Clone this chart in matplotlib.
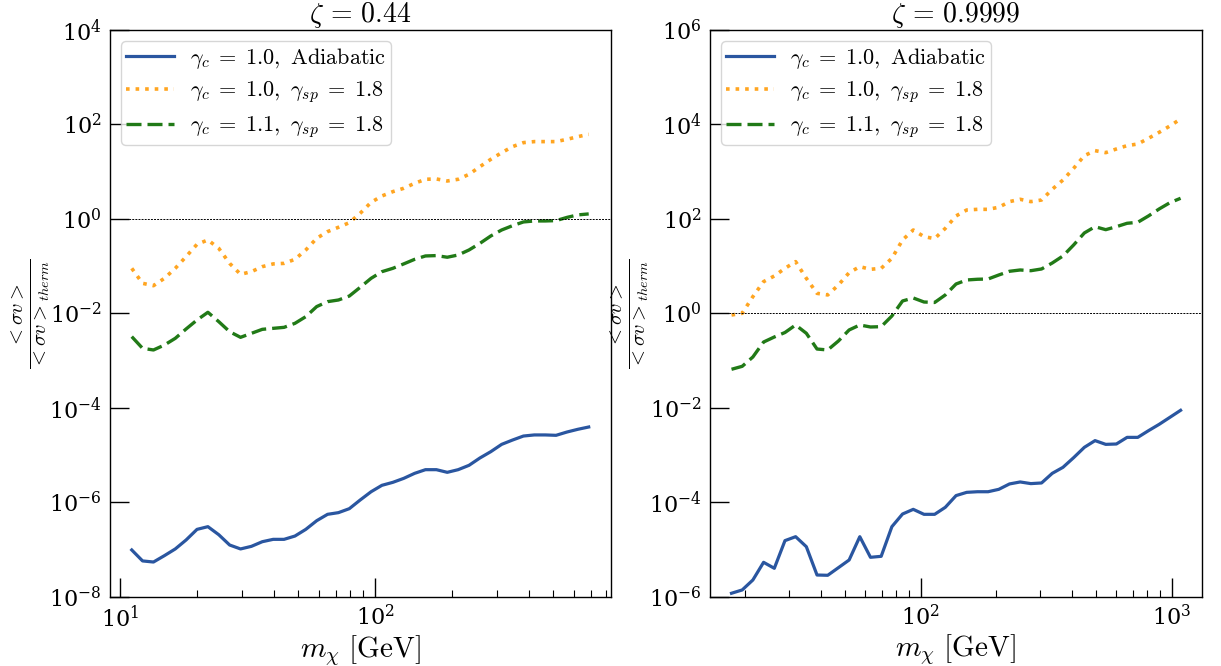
import matplotlib
matplotlib.use("Agg")
import matplotlib.pyplot as plt
from matplotlib.ticker import FixedLocator, NullLocator, LogLocator

plt.rcParams['mathtext.fontset'] = 'cm'
plt.rcParams['font.family'] = 'serif'
plt.rcParams['font.serif'] = ['DejaVu Serif']

# ---- left panel, zeta = 0.44 ----
m_left = [11.12, 12.26, 13.53, 14.93, 16.47, 18.16, 20.04, 22.11, 24.39, 26.90,
          29.68, 32.73, 36.12, 39.84, 43.95, 48.49, 53.48, 59.01, 65.09, 71.81,
          79.21, 87.38, 96.41, 106.3, 117.3, 129.4, 142.8, 157.5, 173.8, 191.7,
          211.5, 233.3, 257.4, 283.9, 313.2, 345.6, 381.2, 420.6, 464.0, 511.7,
          564.5, 622.8, 687.0]
adiab_left = [9.9e-8, 5.8e-8, 5.5e-8, 7.5e-8, 1.04e-7, 1.61e-7, 2.70e-7, 3.08e-7, 2.08e-7, 1.26e-7,
              1.04e-7, 1.18e-7, 1.48e-7, 1.66e-7, 1.66e-7, 1.95e-7, 2.70e-7, 4.12e-7, 5.62e-7, 6.10e-7,
              7.40e-7, 1.13e-6, 1.69e-6, 2.31e-6, 2.67e-6, 3.24e-6, 4.14e-6, 4.95e-6, 4.95e-6, 4.35e-6,
              4.95e-6, 6.12e-6, 8.75e-6, 1.19e-5, 1.70e-5, 2.10e-5, 2.55e-5, 2.69e-5, 2.69e-5, 2.64e-5,
              3.10e-5, 3.54e-5, 3.96e-5]
sp10_left = [0.0903, 0.0435, 0.0388, 0.0555, 0.0903, 0.160, 0.291, 0.360, 0.239, 0.115,
             0.0675, 0.0767, 0.098, 0.112, 0.115, 0.140, 0.221, 0.390, 0.540, 0.667,
             0.836, 1.32, 2.25, 3.07, 3.79, 4.46, 5.69, 6.92, 7.03, 6.37,
             6.92, 8.81, 12.8, 18.3, 25.3, 34.0, 41.3, 43.4, 43.4, 43.4,
             48.5, 55.2, 61.9]
sp11_left = [3.24e-3, 1.83e-3, 1.69e-3, 2.15e-3, 2.98e-3, 4.70e-3, 7.28e-3, 1.06e-2, 6.71e-3, 4.12e-3,
             3.13e-3, 3.80e-3, 4.62e-3, 4.85e-3, 5.09e-3, 6.19e-3, 8.57e-3, 1.40e-2, 1.78e-2, 1.93e-2,
             2.34e-2, 3.58e-2, 5.55e-2, 7.67e-2, 9.03e-2, 0.112, 0.140, 0.165, 0.168, 0.155,
             0.173, 0.221, 0.305, 0.437, 0.585, 0.722, 0.865, 0.908, 0.908, 0.923,
             1.08, 1.22, 1.28]

# ---- right panel, zeta = 0.9999 ----
m_right = [17.66, 19.48, 21.48, 23.70, 26.15, 28.84, 31.80, 35.08, 38.69, 42.68,
           47.09, 51.94, 57.28, 63.18, 69.69, 76.88, 84.78, 93.52, 103.2, 113.8,
           125.5, 138.5, 152.7, 168.5, 185.8, 205.0, 226.1, 249.4, 275.0, 303.4,
           334.6, 369.2, 407.2, 449.2, 495.5, 546.5, 602.6, 664.8, 733.3, 808.9,
           892.3, 984.2, 1086.0]
adiab_right = [1.20e-6, 1.41e-6, 2.29e-6, 5.42e-6, 4.05e-6, 1.56e-5, 1.89e-5, 1.16e-5, 2.92e-6, 2.88e-6,
               4.18e-6, 6.07e-6, 1.89e-5, 6.92e-6, 7.26e-6, 3.08e-5, 5.71e-5, 7.16e-5, 5.62e-5, 5.62e-5,
               7.91e-5, 1.40e-4, 1.64e-4, 1.69e-4, 1.69e-4, 1.90e-4, 2.47e-4, 2.72e-4, 2.51e-4, 2.59e-4,
               4.14e-4, 5.55e-4, 8.89e-4, 1.47e-3, 2.04e-3, 1.70e-3, 1.73e-3, 2.39e-3, 2.39e-3, 3.31e-3,
               4.51e-3, 6.34e-3, 8.93e-3]
sp10_right = [0.929, 1.01, 2.27, 4.72, 6.22, 9.03, 12.5, 5.55, 2.67, 2.47,
              4.01, 7.31, 9.80, 8.61, 9.03, 14.7, 36.0, 58.5, 42.3, 38.4,
              63.4, 116, 155, 160, 160, 177, 233, 261, 233, 252,
              425, 668, 1180, 2188, 2793, 2535, 3030, 3565, 3864, 5093,
              6823, 9290, 13060]
sp11_right = [6.59e-2, 7.62e-2, 0.120, 0.249, 0.318, 0.396, 0.571, 0.381, 0.177, 0.169,
              0.262, 0.448, 0.571, 0.518, 0.526, 0.885, 1.84, 2.13, 1.75, 1.71,
              2.47, 4.21, 5.12, 5.30, 5.37, 6.53, 7.82, 8.33, 8.05, 8.75,
              11.7, 16.5, 28.2, 50.6, 68.7, 59.4, 68.7, 81.1, 85.1, 116,
              163, 221, 274]

labels = [r'$\gamma_c \;=\; 1.0,\ \mathrm{Adiabatic}$',
          r'$\gamma_c \;=\; 1.0,\ \gamma_{sp} \;=\; 1.8$',
          r'$\gamma_c \;=\; 1.1,\ \gamma_{sp} \;=\; 1.8$']
c_blue = '#2a56a0'
c_orange = '#ffa521'
c_green = '#217a17'

fig = plt.figure(figsize=(12.21, 6.66), dpi=100)
ax1 = fig.add_axes([0.0901, 0.1036, 0.4103, 0.8514])
ax2 = fig.add_axes([0.5815, 0.1036, 0.4029, 0.8514])

panels = [
    (ax1, m_left, adiab_left, sp10_left, sp11_left, r'$\zeta \,=\, 0.44$', (9.14, 840), (1e-8, 1e4), range(-8, 5, 2)),
    (ax2, m_right, adiab_right, sp10_right, sp11_right, r'$\zeta \,=\, 0.9999$', (14.5, 1321), (1e-6, 1e6), range(-6, 7, 2)),
]

for ax, m, a, s10, s11, title, xl, yl, yexp in panels:
    ax.plot(m, a, color=c_blue, lw=2.3, label=labels[0])
    ax.plot(m, s10, color=c_orange, lw=2.6, ls=':', label=labels[1])
    ax.plot(m, s11, color=c_green, lw=2.4, ls='--', dashes=(4.5, 1.8), label=labels[2])
    ax.axhline(1.0, color='k', lw=0.7, ls=(0, (2, 1.2)))
    ax.set_xscale('log')
    ax.set_yscale('log')
    ax.set_xlim(*xl)
    ax.set_ylim(*yl)
    ax.yaxis.set_major_locator(FixedLocator([10.0 ** e for e in yexp]))
    ax.yaxis.set_minor_locator(NullLocator())
    ax.xaxis.set_minor_locator(LogLocator(base=10, subs=range(2, 10), numticks=20))
    ax.tick_params(which='major', direction='in', length=14, width=1.0, labelsize=16, pad=6)
    ax.tick_params(which='minor', direction='in', length=5, width=0.8)
    ax.set_title(title, fontsize=20, pad=3)
    ax.set_xlabel(r'$m_\chi\ [\mathrm{GeV}]$', fontsize=21, labelpad=1)
    ax.set_ylabel(r'$\frac{<\sigma v>}{<\sigma v>_{therm}}$', fontsize=21)
    for sp in ax.spines.values():
        sp.set_linewidth(1.0)
    ax.legend(loc='upper left', fontsize=16, handlelength=2.2, framealpha=0.8,
              edgecolor='#cccccc', borderpad=0.2, labelspacing=0.4, handletextpad=0.7)

ax1.yaxis.set_label_coords(-0.115, 0.5)
ax2.yaxis.set_label_coords(-0.12, 0.5)

fig.savefig('out.png', dpi=100)
